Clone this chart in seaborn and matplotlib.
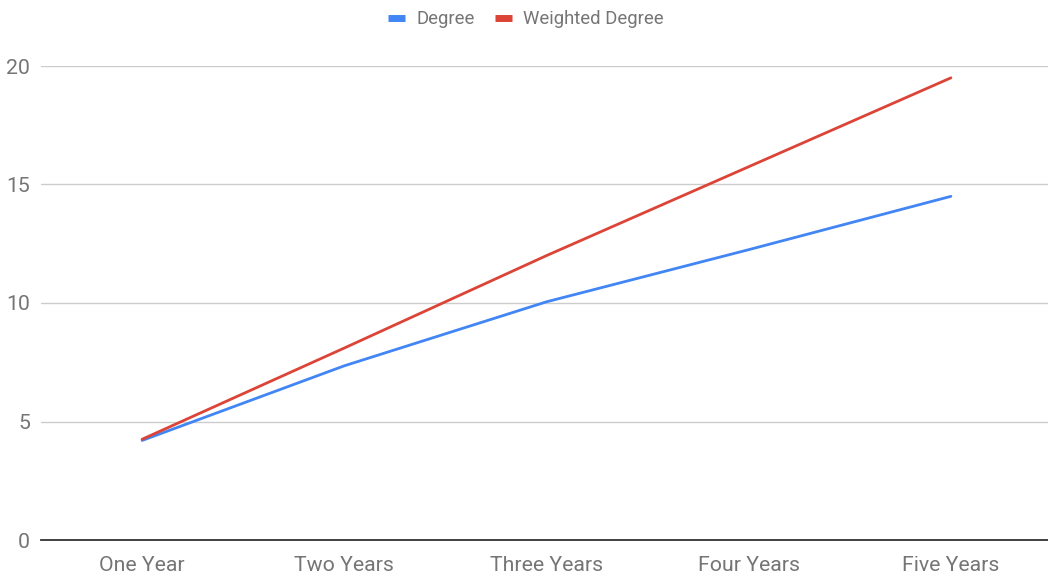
import matplotlib
matplotlib.use("Agg")
import matplotlib.pyplot as plt
import seaborn as sns
import pandas as pd
from matplotlib.lines import Line2D

periods = ["One Year", "Two Years", "Three Years", "Four Years", "Five Years"]
degree = [4.2, 7.35, 10.05, 12.25, 14.5]
weighted_degree = [4.25, 8.1, 12.0, 15.75, 19.5]
series_names = ["Degree", "Weighted Degree"]
y_ticks = [0, 5, 10, 15, 20]

df = pd.DataFrame({
    "period": periods * 2,
    "x": list(range(len(periods))) * 2,
    "value": degree + weighted_degree,
    "series": [series_names[0]] * len(periods) + [series_names[1]] * len(periods),
})

sns.set_style("white")
plt.rcParams["font.family"] = ["Roboto", "DejaVu Sans"]

colors = {"Degree": "#4285F4", "Weighted Degree": "#DB4437"}
text_color = "#757575"

fig = plt.figure(figsize=(10.48, 5.78), dpi=100)
ax = fig.add_axes([41 / 1048, 38 / 578, 1011 / 1048, 474 / 578])

sns.lineplot(data=df, x="x", y="value", hue="series", palette=colors,
             linewidth=2.0, ax=ax, legend=False)

ax.set_xlim(-0.5, 4.5)
ax.set_ylim(0, 20)
ax.set_yticks(y_ticks)
ax.set_xticks(range(len(periods)))
ax.set_xticklabels(periods)
ax.set_xlabel("")
ax.set_ylabel("")

ax.grid(axis="y", color="#cccccc", linewidth=1.0)
ax.grid(axis="x", visible=False)
ax.set_axisbelow(True)
for side in ["top", "right", "left"]:
    ax.spines[side].set_visible(False)
ax.spines["bottom"].set_color("#333333")
ax.spines["bottom"].set_linewidth(1.3)
ax.spines["bottom"].set_zorder(3)

ax.tick_params(axis="both", length=0, labelsize=15.3, colors=text_color)
ax.tick_params(axis="x", pad=11.5)
ax.tick_params(axis="y", pad=8)

handles = [Line2D([0], [0], color=colors[n], linewidth=5, solid_capstyle="butt") for n in series_names]
fig.legend(handles, series_names, loc="center", bbox_to_anchor=(526 / 1048, 1 - 19 / 578),
           ncol=2, frameon=False, fontsize=13.3, handlelength=0.92,
           handletextpad=0.6, columnspacing=1.1, labelcolor=text_color)

fig.savefig("out.png", dpi=100)
